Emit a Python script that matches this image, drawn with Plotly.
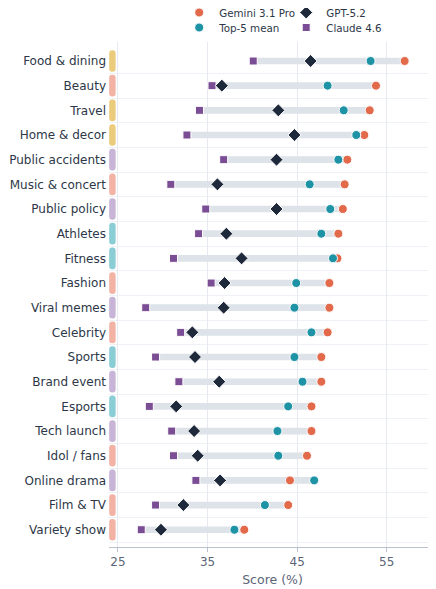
import plotly.graph_objects as go

categories = ["Food & dining", "Beauty", "Travel", "Home & decor", "Public accidents",
              "Music & concert", "Public policy", "Athletes", "Fitness", "Fashion",
              "Viral memes", "Celebrity", "Sports", "Brand event", "Esports",
              "Tech launch", "Idol / fans", "Online drama", "Film & TV", "Variety show"]
gemini = [57.0, 53.8, 53.1, 52.5, 50.6, 50.3, 50.1, 49.6, 49.5, 48.6,
          48.6, 48.4, 47.7, 47.7, 46.6, 46.6, 46.1, 44.2, 44.0, 39.1]
top5 = [53.2, 48.4, 50.2, 51.6, 49.6, 46.4, 48.7, 47.7, 49.0, 44.9,
        44.7, 46.6, 44.7, 45.6, 44.0, 42.8, 42.9, 46.9, 41.4, 38.0]
gpt = [46.5, 36.6, 42.9, 44.7, 42.7, 36.1, 42.7, 37.1, 38.8, 36.9,
       36.8, 33.3, 33.6, 36.3, 31.5, 33.5, 33.9, 36.4, 32.3, 29.8]
claude = [40.1, 35.5, 34.1, 32.7, 36.8, 30.9, 34.8, 34.0, 31.2, 35.4,
          28.1, 32.0, 29.2, 31.8, 28.5, 31.0, 31.2, 33.7, 29.2, 27.6]
groups = ["lifestyle", "culture", "lifestyle", "lifestyle", "news",
          "culture", "news", "sport", "sport", "culture",
          "news", "culture", "sport", "news", "sport",
          "news", "culture", "news", "culture", "culture"]
group_colors = {"lifestyle": "#EBCB7C", "culture": "#F2B3A4", "news": "#C7B4D6", "sport": "#8BCDD5"}
x_ticks = [25, 35, 45, 55]

n = len(categories)
ypos = [n - 1 - i for i in range(n)]
lo = [min(a, b, c, d) for a, b, c, d in zip(gemini, top5, gpt, claude)]
hi = [max(a, b, c, d) for a, b, c, d in zip(gemini, top5, gpt, claude)]

W, H = 428, 581

fig = go.Figure()
# group pills
fig.add_trace(go.Bar(
    y=ypos, x=[0.72] * n, base=[24.02] * n, orientation="h", width=0.88,
    marker=dict(color=[group_colors[g] for g in groups], cornerradius=4, line_width=0),
    showlegend=False, hoverinfo="skip"))
# range bars
fig.add_trace(go.Bar(
    y=ypos, x=[h - l for h, l in zip(hi, lo)], base=lo, orientation="h", width=0.27,
    marker=dict(color="#DDE3E8", line_width=0), showlegend=False, hoverinfo="skip"))

mk_line = dict(color="white", width=1)
fig.add_trace(go.Scatter(x=claude, y=ypos, mode="markers", name="Claude 4.6",
                         marker=dict(symbol="square", size=8, color="#7B4D94", line=mk_line),
                         legend="legend2", legendrank=2))
fig.add_trace(go.Scatter(x=gpt, y=ypos, mode="markers", name="GPT-5.2",
                         marker=dict(symbol="diamond", size=10, color="#1E293B", line=mk_line),
                         legend="legend", legendrank=2))
fig.add_trace(go.Scatter(x=gemini, y=ypos, mode="markers", name="Gemini 3.1 Pro",
                         marker=dict(symbol="circle", size=9, color="#E3694B", line=mk_line),
                         legend="legend", legendrank=1))
fig.add_trace(go.Scatter(x=top5, y=ypos, mode="markers", name="Top-5 mean",
                         marker=dict(symbol="circle", size=9, color="#1E93A6", line=mk_line),
                         legend="legend2", legendrank=1))

leg_common = dict(orientation="h", xref="container", yref="container", xanchor="left",
                  yanchor="middle", font=dict(size=10.3, color="#2D3748"),
                  bgcolor="rgba(0,0,0,0)", itemwidth=30, entrywidth=62,
                  traceorder="normal")
fig.update_layout(
    width=W, height=H,
    margin=dict(l=101, r=0, t=34, b=42, autoexpand=False),
    paper_bgcolor="white", plot_bgcolor="white",
    font=dict(family="DejaVu Sans", color="#2D3748"),
    barmode="overlay",
    legend=dict(x=0.40, y=1 - 4.5 / H, **leg_common),
    legend2=dict(x=0.40, y=1 - 19.5 / H, **leg_common),
    xaxis=dict(range=[24, 60.5], tickvals=x_ticks, showgrid=True, gridcolor="#E6EAF0",
               zeroline=False, showline=True, linecolor="#B9C1CC", ticks="outside",
               ticklen=4, tickcolor="#B9C1CC", tickfont=dict(size=12, color="#5B6577"),
               automargin=False,
               title=dict(text="Score (%)", font=dict(size=12.5, color="#5B6577"), standoff=6)),
    yaxis=dict(range=[-0.7, n - 0.23], tickvals=ypos, ticktext=categories, showgrid=False,
               zeroline=False, showline=False, ticks="", automargin=False,
               ticklabelstandoff=2, tickfont=dict(size=12, color="#2D3748"),
               minor=dict(tickvals=[i + 0.5 for i in range(-1, n - 1)], showgrid=True,
                          gridcolor="#EEF1F5", ticks="")),
)

fig.write_html("out.html")
